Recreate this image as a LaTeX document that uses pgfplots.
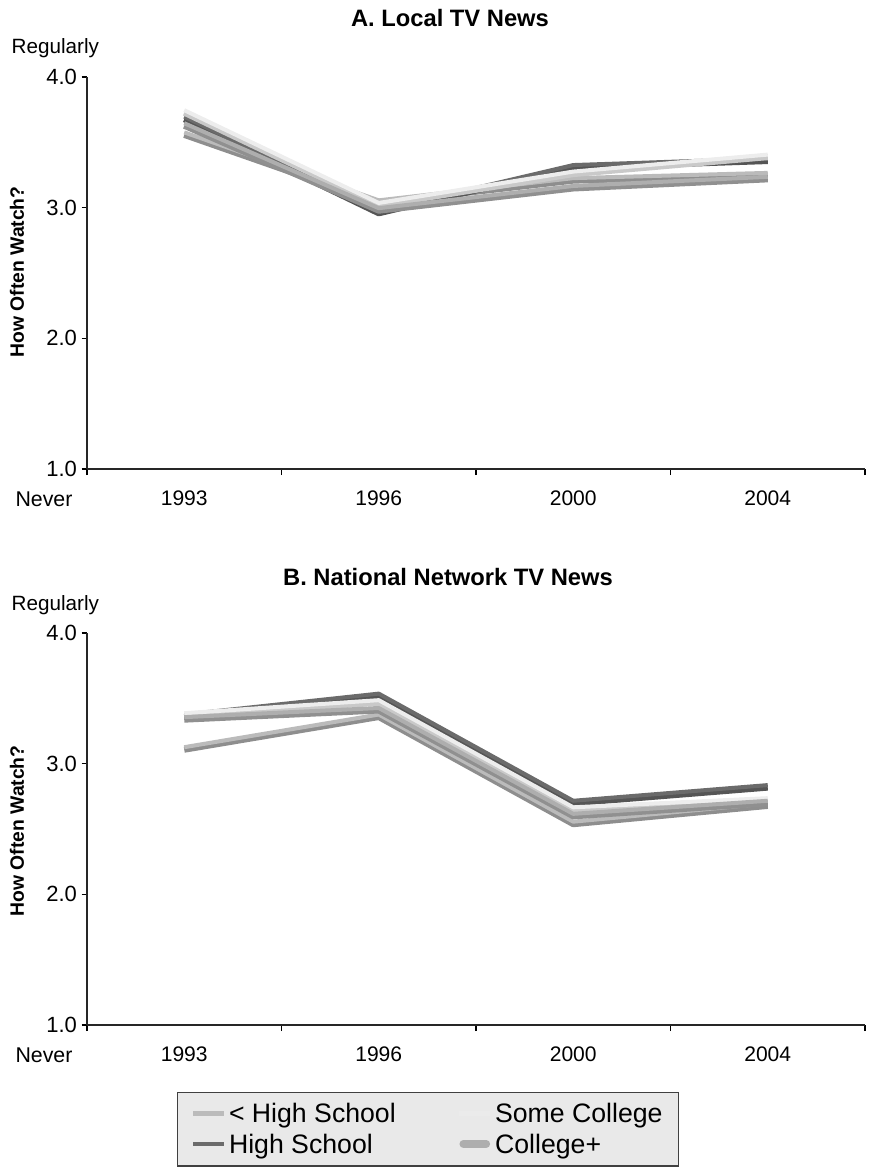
\documentclass[border=0pt]{standalone}
\usepackage{fontspec}
\setmainfont{Liberation Sans}
\usepackage{pgfplots}
\pgfplotsset{compat=1.18}
\definecolor{lhsTop}{HTML}{BBBBBB}
\definecolor{lhsFront}{HTML}{8E8E8E}
\definecolor{hsTop}{HTML}{6B6B6B}
\definecolor{hsFront}{HTML}{555555}
\definecolor{scTop}{HTML}{EDEDED}
\definecolor{scFront}{HTML}{C9C9C9}
\definecolor{cpTop}{HTML}{AEAEAE}
\definecolor{cpFront}{HTML}{909090}
\definecolor{legfill}{HTML}{E9E9E9}
\pgfplotsset{
  panel/.style={
    scale only axis, width=583.5pt, height=294pt,
    xmin=-0.5, xmax=3.5, ymin=1, ymax=4,
    axis lines*=left,
    axis line style={line width=1.3pt, black!85},
    xtick={0,1,2,3}, xticklabels={1993,1996,2000,2004},
    minor xtick={-0.5,0.5,1.5,2.5,3.5},
    ytick={1,2,3,4},
    yticklabel style={font=\fontsize{16.5}{19}\selectfont, /pgf/number format/.cd, fixed, fixed zerofill, precision=1},
    major x tick style={draw=none},
    tick align=outside,
    major tick length=4pt, minor tick length=4.5pt,
    tick style={line width=1.1pt, black},
    xticklabel style={font=\fontsize{15.8}{18}\selectfont, yshift=-9pt},
    /pgf/number format/assume math mode=true,
    clip=false,
  },
  front/.style={line width=4.5pt, line join=round, yshift=-1.3pt, forget plot},
  top/.style={line width=3pt, line join=round, yshift=0.6pt},
}
\begin{document}
\begin{tikzpicture}
\path[use as bounding box] (0pt,0pt) rectangle (651pt,-877.5pt);
% Panel A
\begin{axis}[panel, at={(65.25pt,-351.75pt)}, anchor=south west]
\addplot[front, lhsFront] coordinates {(0,3.57) (1,3.05) (2,3.22) (3,3.26)};
\addplot[top, lhsTop] coordinates {(0,3.57) (1,3.05) (2,3.22) (3,3.26)};
\addplot[front, hsFront] coordinates {(0,3.69) (1,2.97) (2,3.32) (3,3.37)};
\addplot[top, hsTop] coordinates {(0,3.69) (1,2.97) (2,3.32) (3,3.37)};
\addplot[front, scFront] coordinates {(0,3.74) (1,3.03) (2,3.27) (3,3.40)};
\addplot[top, scTop] coordinates {(0,3.74) (1,3.03) (2,3.27) (3,3.40)};
\addplot[front, cpFront] coordinates {(0,3.64) (1,2.99) (2,3.16) (3,3.23)};
\addplot[top, cpTop] coordinates {(0,3.64) (1,2.99) (2,3.16) (3,3.23)};
\end{axis}
% Panel B
\begin{axis}[panel, at={(65.25pt,-768.75pt)}, anchor=south west,
  legend style={at={(axis description cs:0.1157,-0.171)}, anchor=north west,
    fill=legfill, draw=black!75, line width=1pt,
    font=\fontsize{20}{22}\selectfont,
    inner xsep=10pt, inner ysep=6pt, row sep=3pt,
    /tikz/every even column/.append style={column sep=44pt}},
  legend columns=2, transpose legend, legend cell align=left]
\addplot[front, lhsFront] coordinates {(0,3.12) (1,3.37) (2,2.55) (3,2.69)};
\addplot[top, lhsTop, legend image code/.code={\draw[lhsTop, line width=3.5pt] (0pt,0pt) -- (23pt,0pt);}] coordinates {(0,3.12) (1,3.37) (2,2.55) (3,2.69)};
\addlegendentry{< High School}
\addplot[front, hsFront] coordinates {(0,3.37) (1,3.53) (2,2.71) (3,2.83)};
\addplot[top, hsTop, legend image code/.code={\draw[hsTop, line width=3.5pt] (0pt,0pt) -- (23pt,0pt);}] coordinates {(0,3.37) (1,3.53) (2,2.71) (3,2.83)};
\addlegendentry{High School}
\addplot[front, scFront] coordinates {(0,3.38) (1,3.48) (2,2.66) (3,2.73)};
\addplot[top, scTop, legend image code/.code={\draw[scTop!60!legfill, line width=3.5pt] (0pt,0pt) -- (23pt,0pt);}] coordinates {(0,3.38) (1,3.48) (2,2.66) (3,2.73)};
\addlegendentry{Some College}
\addplot[front, cpFront] coordinates {(0,3.35) (1,3.42) (2,2.61) (3,2.71)};
\addplot[top, cpTop, legend image code/.code={\draw[cpTop, line width=6pt, line cap=round] (3pt,0pt) -- (20pt,0pt);}] coordinates {(0,3.35) (1,3.42) (2,2.61) (3,2.71)};
\addlegendentry{College+}
\end{axis}
\begin{scope}[x=0.75pt, y=-0.75pt]
\node[anchor=west, font=\fontsize{15.5}{18}\selectfont] at (7,48) {Regularly};
\node[font=\fontsize{16}{18}\selectfont] at (44,499) {Never};
\node[rotate=90, font=\bfseries\fontsize{14.5}{16}\selectfont] at (17,272) {How Often Watch?};
\node[font=\bfseries\fontsize{17.8}{20}\selectfont] at (450,18) {A. Local TV News};
\node[anchor=west, font=\fontsize{15.5}{18}\selectfont] at (7,605) {Regularly};
\node[font=\fontsize{16}{18}\selectfont] at (44,1055) {Never};
\node[rotate=90, font=\bfseries\fontsize{14.5}{16}\selectfont] at (17,831) {How Often Watch?};
\node[font=\bfseries\fontsize{17.8}{20}\selectfont] at (448,577) {B. National Network TV News};
\end{scope}
\end{tikzpicture}
\end{document}
